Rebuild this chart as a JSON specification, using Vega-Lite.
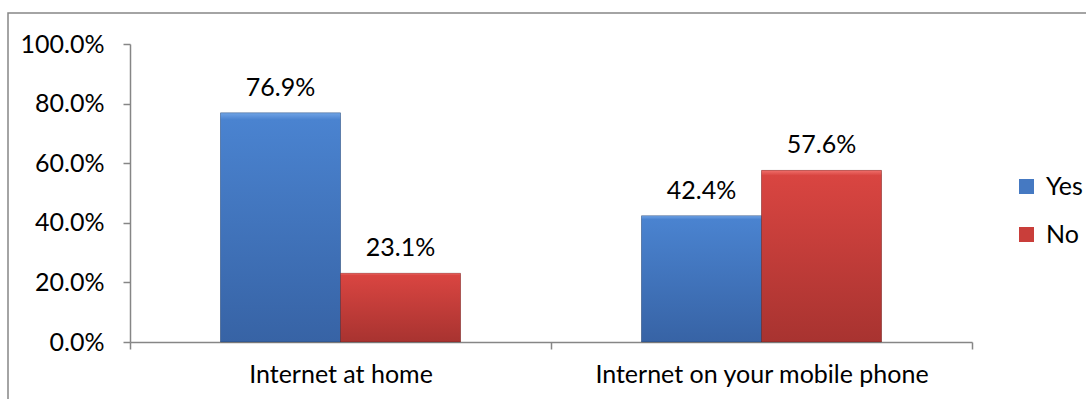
{
  "$schema": "https://vega.github.io/schema/vega-lite/v6.json",
  "width": 1090,
  "height": 400,
  "autosize": {"type": "none"},
  "padding": {"left": 8, "top": 13, "right": 0, "bottom": 0},
  "background": "white",
  "config": {
    "view": {"stroke": "#868686", "strokeWidth": 1.5},
    "font": "Lato",
    "axis": {
      "domainColor": "#868686",
      "tickColor": "#868686",
      "domainWidth": 1.5,
      "tickWidth": 1.5,
      "tickSize": 7,
      "labelColor": "#000000",
      "labelFontSize": 25,
      "labelFont": "Lato",
      "labelLimit": 0,
      "grid": false,
      "title": null
    }
  },
  "data": {
    "values": [
      {"category": "Internet at home", "answer": "Yes", "share": 0.769},
      {"category": "Internet at home", "answer": "No", "share": 0.231},
      {"category": "Internet on your mobile phone", "answer": "Yes", "share": 0.424},
      {"category": "Internet on your mobile phone", "answer": "No", "share": 0.576}
    ]
  },
  "encoding": {
    "x": {
      "field": "category",
      "type": "nominal",
      "sort": null,
      "scale": {"range": [122, 964], "paddingInner": 0, "paddingOuter": 0},
      "axis": {
        "orient": "bottom",
        "offset": -71,
        "labelAngle": 0,
        "tickBand": "extent",
        "labelPadding": 13,
        "labelLimit": 0
      }
    },
    "xOffset": {
      "field": "answer",
      "type": "nominal",
      "sort": ["Yes", "No"],
      "scale": {"paddingInner": 0, "paddingOuter": 0.754}
    },
    "y": {
      "field": "share",
      "type": "quantitative",
      "scale": {"domain": [0, 1], "range": [329, 31], "nice": false, "zero": true},
      "axis": {
        "orient": "left",
        "offset": -122,
        "values": [0, 0.2, 0.4, 0.6, 0.8, 1],
        "format": ".1%",
        "labelPadding": 19
      }
    }
  },
  "layer": [
    {
      "mark": {"type": "bar"},
      "encoding": {
        "color": {
          "field": "answer",
          "type": "nominal",
          "sort": ["Yes", "No"],
          "scale": {"domain": ["Yes", "No"], "range": ["#4579C2", "#C93E3A"]},
          "legend": {
            "orient": "none",
            "legendX": 1006,
            "legendY": 161,
            "title": null,
            "symbolType": "square",
            "symbolSize": 225,
            "symbolStrokeWidth": 0,
            "labelFontSize": 25,
            "labelFont": "Lato",
            "labelColor": "#000000",
            "labelOffset": 7,
            "rowPadding": 22
          }
        }
      }
    },
    {
      "mark": {"type": "bar", "stroke": "#00000033", "strokeWidth": 1},
      "encoding": {
        "fill": {
          "condition": {
            "test": "datum.answer === 'Yes'",
            "value": {
              "gradient": "linear", "x1": 0, "y1": 0, "x2": 0, "y2": 1,
              "stops": [
                {"offset": 0, "color": "#6FA3E6"},
                {"offset": 0.03, "color": "#4A83D0"},
                {"offset": 1, "color": "#3763A5"}
              ]
            }
          },
          "value": {
            "gradient": "linear", "x1": 0, "y1": 0, "x2": 0, "y2": 1,
            "stops": [
              {"offset": 0, "color": "#F06F6B"},
              {"offset": 0.03, "color": "#D94541"},
              {"offset": 1, "color": "#A83330"}
            ]
          }
        }
      }
    },
    {
      "mark": {"type": "text", "dy": -25, "fontSize": 25, "font": "Lato", "color": "#000000", "baseline": "middle"},
      "encoding": {
        "text": {"field": "share", "type": "quantitative", "format": ".1%"}
      }
    }
  ]
}
